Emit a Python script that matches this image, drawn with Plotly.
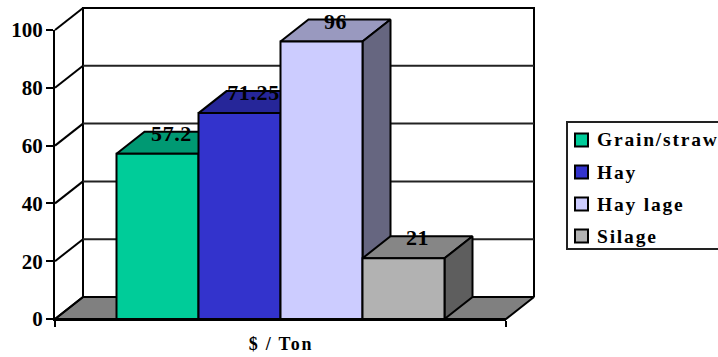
import plotly.graph_objects as go

categories = ["Grain/straw", "Hay", "Hay lage", "Silage"]
values = [57.2, 71.25, 96, 21]
value_labels = ["57.2", "71.25", "96", "21"]
front_colors = ["#00CC99", "#3333CC", "#CCCCFF", "#B2B2B2"]
top_colors = ["#009973", "#262699", "#9999BF", "#868686"]
side_colors = ["#006650", "#1A1A66", "#666680", "#5E5E5E"]
y_ticks = [0, 20, 40, 60, 80, 100]
axis_title = "$ / Ton"

FONT = "Liberation Serif"
WIDTH, HEIGHT = 718, 357
LEFT, RIGHT, TOP, BOTTOM = 55, 506, 30, 319
X_MAX = 5.5
Y_MAX = 100
GAP = 0.75
X_SCALE = (RIGHT - LEFT) / X_MAX    # pixels per x unit
Y_SCALE = (BOTTOM - TOP) / Y_MAX    # pixels per y unit
DX = 28 / X_SCALE                   # depth of the box along x, in axis units
DY = 22 / Y_SCALE                   # depth of the box along y, in axis units

# The drawing axes reach past the box so no stroke is clipped at its edges
DRAW_LEFT, DRAW_RIGHT, DRAW_TOP, DRAW_BOTTOM = 40, 550, 0, 335
draw_x_range = [(DRAW_LEFT - LEFT) / X_SCALE, (DRAW_RIGHT - LEFT) / X_SCALE]
draw_y_range = [(BOTTOM - DRAW_BOTTOM) / Y_SCALE, (BOTTOM - DRAW_TOP) / Y_SCALE]


def paper_x(px):
    return px / WIDTH


def paper_y(py):
    return 1 - py / HEIGHT


def polygon(xs, ys, fill, width=2):
    return go.Scatter(
        x=xs + xs[:1], y=ys + ys[:1], mode="lines", fill="toself", fillcolor=fill,
        line=dict(color="black", width=width),
        hoverinfo="skip", showlegend=False, xaxis="x", yaxis="y",
    )


def wall_line(xs, ys, width=2, color="black"):
    return go.Scatter(
        x=xs, y=ys, mode="lines", line=dict(color=color, width=width),
        hoverinfo="skip", showlegend=False, xaxis="x", yaxis="y",
    )


fig = go.Figure()

# Floor of the box
fig.add_trace(polygon([0, X_MAX, X_MAX + DX, DX], [0, 0, DY, DY], "#808080"))

# Back wall outline and gridlines, with the slanted run back from the value axis
fig.add_trace(wall_line([DX, DX, X_MAX + DX, X_MAX + DX],
                        [DY, Y_MAX + DY, Y_MAX + DY, DY]))
for tick in y_ticks:
    fig.add_trace(wall_line([0, DX], [tick, tick + DY], width=2))
    if 0 < tick < Y_MAX:
        fig.add_trace(wall_line([DX, X_MAX + DX], [tick + DY, tick + DY],
                                width=2, color="#222222"))

# Top and side faces, left to right so nearer bars cover farther ones
for i, v in enumerate(values):
    x0, x1 = GAP + i, GAP + i + 1
    fig.add_trace(polygon([x0, x1, x1 + DX, x0 + DX], [v, v, v + DY, v + DY], top_colors[i]))
    fig.add_trace(polygon([x1, x1 + DX, x1 + DX, x1], [0, DY, v + DY, v], side_colors[i]))

# Front faces sit on an overlaid pair of axes, so they cover all depth faces
for i, v in enumerate(values):
    fig.add_trace(go.Bar(
        x=[GAP + i + 0.5], y=[v], width=1, name=categories[i],
        marker=dict(color=front_colors[i], line=dict(color="black", width=2)),
        showlegend=False, xaxis="x2", yaxis="y2",
    ))

# Value labels float over the top face of each bar
fig.add_trace(go.Scatter(
    x=[GAP + i + 0.5 + DX / 2 for i in range(len(values))],
    y=[v + DY * 0.84 for v in values],
    mode="text", text=value_labels, textposition="middle center",
    textfont=dict(family=FONT, size=22, color="black", weight="bold"),
    cliponaxis=False, hoverinfo="skip", showlegend=False, xaxis="x2", yaxis="y2",
))

# Visible axes cover only the front plane of the box
fig.add_trace(go.Scatter(
    x=[0, X_MAX], y=[0, 0], mode="lines", line=dict(color="black", width=2),
    cliponaxis=False, hoverinfo="skip", showlegend=False, xaxis="x3", yaxis="y3",
))

# Legend panel: it runs off the right edge of the page
shapes = [dict(
    type="rect", xref="paper", yref="paper",
    x0=paper_x(567), x1=paper_x(740), y0=paper_y(249), y1=paper_y(122),
    line=dict(color="#222222", width=2), fillcolor="white",
)]
annotations = []
for i, name in enumerate(categories):
    cy = 140 + i * 32
    shapes.append(dict(
        type="rect", xref="paper", yref="paper",
        x0=paper_x(575), x1=paper_x(588), y0=paper_y(cy + 6.5), y1=paper_y(cy - 6.5),
        line=dict(color="black", width=2), fillcolor=front_colors[i],
    ))
    annotations.append(dict(
        text=name, xref="paper", yref="paper", x=paper_x(595), y=paper_y(cy),
        xanchor="left", yanchor="middle", align="left", showarrow=False,
        font=dict(family=FONT, size=19.5, color="black", weight="bold"),
    ))

annotations.append(dict(
    text=axis_title, xref="paper", yref="paper", x=paper_x((LEFT + RIGHT) / 2), y=paper_y(344),
    xanchor="center", yanchor="middle", showarrow=False,
    font=dict(family=FONT, size=18, color="black", weight="bold"),
))

fig.update_layout(
    width=WIDTH, height=HEIGHT, autosize=False,
    margin=dict(l=0, r=0, t=0, b=0, autoexpand=False),
    paper_bgcolor="white", plot_bgcolor="rgba(0,0,0,0)",
    barmode="overlay", showlegend=False,
    shapes=shapes, annotations=annotations,
    xaxis=dict(
        domain=[paper_x(DRAW_LEFT), paper_x(DRAW_RIGHT)], range=draw_x_range, visible=False,
    ),
    yaxis=dict(
        domain=[paper_y(DRAW_BOTTOM), paper_y(DRAW_TOP)], range=draw_y_range, visible=False,
    ),
    xaxis2=dict(range=draw_x_range, overlaying="x", visible=False),
    yaxis2=dict(range=draw_y_range, overlaying="y", visible=False),
    xaxis3=dict(
        domain=[paper_x(LEFT), paper_x(RIGHT)], range=[0, X_MAX], anchor="y3",
        tickmode="array", tickvals=[0, X_MAX], showticklabels=False,
        ticks="outside", ticklen=6, tickwidth=2, tickcolor="black",
        showline=True, linewidth=2, linecolor="black", showgrid=False, zeroline=False,
    ),
    yaxis3=dict(
        domain=[paper_y(BOTTOM), paper_y(TOP)], range=[0, Y_MAX], anchor="x3",
        tickmode="array", tickvals=y_ticks,
        ticks="outside", ticklen=7, tickwidth=2, tickcolor="black",
        tickfont=dict(family=FONT, size=21, color="black", weight="bold"),
        ticklabelstandoff=-1,
        showline=True, linewidth=2, linecolor="black", showgrid=False, zeroline=False,
    ),
)

# The typeface is set with wide tracking
spacing = """
document.querySelectorAll('.ytick text').forEach(function (t) {
    t.style.letterSpacing = '2px';
});
document.querySelectorAll('.annotation-text').forEach(function (t) {
    t.style.letterSpacing = '1.8px';
});
document.querySelectorAll('.textpoint text').forEach(function (t) {
    t.style.letterSpacing = '0.6px';
});
"""

fig.write_html("out.html", post_script=spacing)
